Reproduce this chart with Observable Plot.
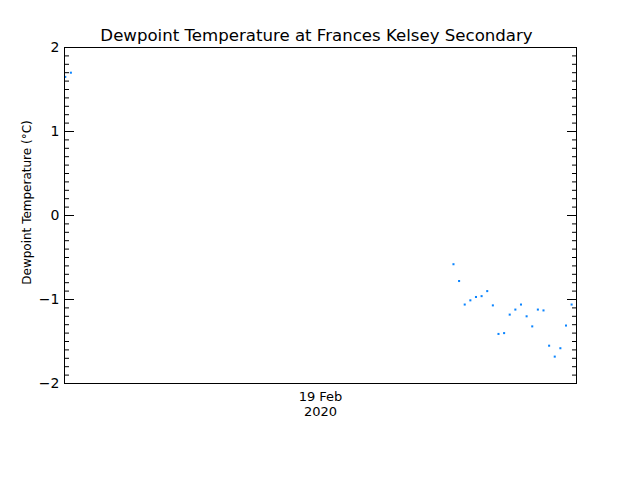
<!DOCTYPE html>
<html>
<head>
<meta charset="utf-8">
<script src="https://cdn.jsdelivr.net/npm/d3@7"></script>
<script src="https://cdn.jsdelivr.net/npm/@observablehq/plot@0.6"></script>
<style>
  html, body { margin: 0; padding: 0; background: #fff; }
  #chart { width: 640px; height: 480px; }
</style>
</head>
<body>
<div id="chart"></div>
<script>
// Observation times (UTC) and dewpoint values (°C)
const times = [
  "2020-02-19T01:00", "2020-02-19T01:15",
  "2020-02-19T18:15", "2020-02-19T18:30", "2020-02-19T18:45", "2020-02-19T19:00",
  "2020-02-19T19:15", "2020-02-19T19:30", "2020-02-19T19:45", "2020-02-19T20:00",
  "2020-02-19T20:15", "2020-02-19T20:30", "2020-02-19T20:45", "2020-02-19T21:00",
  "2020-02-19T21:15", "2020-02-19T21:30", "2020-02-19T21:45", "2020-02-19T22:00",
  "2020-02-19T22:15", "2020-02-19T22:30", "2020-02-19T22:45", "2020-02-19T23:00",
  "2020-02-19T23:15", "2020-02-19T23:30"
];
const dewpoint = [
  1.65, 1.70,
  -0.58, -0.78, -1.06, -1.01, -0.97, -0.96, -0.90, -1.07,
  -1.41, -1.40, -1.18, -1.12, -1.06, -1.20, -1.32, -1.12,
  -1.13, -1.55, -1.68, -1.58, -1.31, -1.06
];
const xDomain = ["2020-02-19T00:58", "2020-02-19T23:43"];
const yDomain = [-2, 2];
const yMajorTicks = [-2, -1, 0, 1, 2];
const yMinorTicks = d3.range(-20, 21).map(d => d / 10).filter(d => !yMajorTicks.includes(d));
const xTickDay = "19 Feb";
const xTickYear = "2020";
const titleText = "Dewpoint Temperature at Frances Kelsey Secondary";
const yLabelText = "Dewpoint Temperature (°C)";

const parse = s => new Date(s + "Z");
const data = times.map((t, i) => ({t: parse(t), v: dewpoint[i]}));
const xd = xDomain.map(parse);
const xMid = new Date((xd[0].getTime() + xd[1].getTime()) / 2);

const font = "DejaVu Sans, sans-serif";
const yFmt = d => d < 0 ? "\u2212" + (-d) : String(d);

const chart = Plot.plot({
  width: 640,
  height: 480,
  marginLeft: 64,
  marginRight: 64,
  marginTop: 47,
  marginBottom: 97,
  style: {fontFamily: font, fontSize: "14px", color: "#000", background: "#fff"},
  x: {type: "utc", domain: xd},
  y: {domain: yDomain},
  marks: [
    Plot.dot(data, {x: "t", y: "v", symbol: "square", r: 1.15, fill: "#0a84ff", stroke: "none"}),
    Plot.frame({stroke: "#000", strokeWidth: 1}),
    // major ticks inward, left & right
    Plot.axisY({anchor: "left", ticks: yMajorTicks, tickSize: 10, dx: 10, tickFormat: () => "", label: null, stroke: "#000"}),
    Plot.axisY({anchor: "right", ticks: yMajorTicks, tickSize: 10, dx: -10, tickFormat: () => "", label: null, stroke: "#000"}),
    // minor ticks inward
    Plot.axisY({anchor: "left", ticks: yMinorTicks, tickSize: 5, dx: 5, tickFormat: () => "", label: null, stroke: "#000"}),
    Plot.axisY({anchor: "right", ticks: yMinorTicks, tickSize: 5, dx: -5, tickFormat: () => "", label: null, stroke: "#000"}),
    // tick labels
    Plot.axisY({anchor: "left", ticks: yMajorTicks, tickSize: 0, tickPadding: 5, tickFormat: yFmt, label: null, fontSize: 14, fill: "#000"}),
    Plot.axisX({anchor: "bottom", ticks: [xMid], tickSize: 0, tickPadding: 8, tickFormat: () => xTickDay, label: null, fontSize: 13, fill: "#000"}),
    Plot.axisX({anchor: "bottom", ticks: [xMid], tickSize: 0, tickPadding: 23.5, tickFormat: () => xTickYear, label: null, fontSize: 13, fill: "#000"}),
    // title and y label
    Plot.text([titleText], {frameAnchor: "top", dx: -4, dy: -12, fontSize: 16.6, fill: "#000", lineAnchor: "middle"}),
    Plot.text([yLabelText], {frameAnchor: "left", textAnchor: "middle", rotate: -90, dx: -37, dy: -13, fontSize: 12, fill: "#000", lineAnchor: "middle"})
  ]
});
document.getElementById("chart").appendChild(chart);
</script>
</body>
</html>
